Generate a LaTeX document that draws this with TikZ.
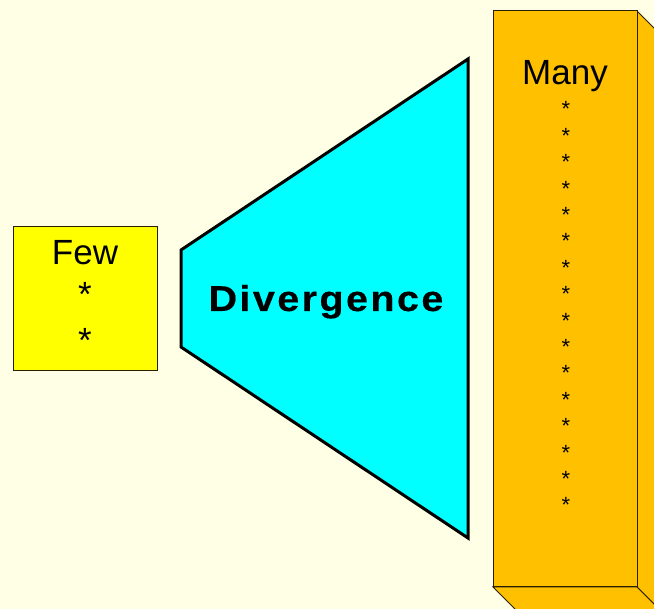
\documentclass[tikz,border=0pt]{standalone}
\usepackage{fontspec}
\usepackage{graphicx}
\setmainfont{Liberation Sans}
\newfontfamily\divfont[FakeBold=0.3,LetterSpace=6]{Liberation Sans}
\definecolor{bgc}{RGB}{255,255,229}
\definecolor{fewc}{RGB}{255,255,0}
\definecolor{manyc}{RGB}{255,192,0}
\definecolor{divc}{RGB}{0,255,255}
\definecolor{edgec}{RGB}{40,30,0}
\tikzset{
  fewbox/.style={draw=edgec, line width=1pt, fill=fewc},
  manyface/.style={draw=edgec, line width=1pt, fill=manyc, line join=miter},
  divshape/.style={draw=black, line width=3pt, fill=divc, line join=miter},
  bigtxt/.style={inner sep=0pt, font=\fontsize{35}{42}\selectfont},
  star/.style={inner sep=0pt, anchor=base, font=\fontsize{22}{26}\selectfont},
  bigstar/.style={inner sep=0pt, anchor=base, font=\fontsize{35}{42}\selectfont}
}
\begin{document}
\begin{tikzpicture}[x=1pt,y=-1pt]
\useasboundingbox (0,0) rectangle (654,609);
\fill[bgc] (0,0) rectangle (654,609);
\begin{scope}
\clip (0,0) rectangle (654,609);
% Many box (3D)
\draw[manyface] (637,11) -- (667,41) -- (667,617) -- (637,587) -- cycle;
\draw[manyface] (493,587) -- (637,587) -- (667,617) -- (523,617) -- cycle;
\draw[manyface] (493,11) rectangle (637,587);
\end{scope}
\node[bigtxt, anchor=base] (many) at (565,85) {Many};
\foreach \i in {0,...,15} {
  \node[star] (s\i) at (566,{117+26.4*\i}) {*};
}
% Few box
\draw[fewbox] (13,227) rectangle (157,371);
\node[bigtxt, anchor=base] (few) at (85,265) {Few};
\node[bigstar] (fs1) at (85,307) {*};
\node[bigstar] (fs2) at (85,353) {*};
% Divergence trapezoid
\draw[divshape] (181,250) -- (468,59) -- (468,538) -- (181,347) -- cycle;
\node[inner sep=0pt, anchor=base, font=\fontsize{36}{42}\selectfont] (div) at (326,311) {\scalebox{1.1}[1]{\divfont\bfseries Divergence}};
\end{tikzpicture}
\end{document}
